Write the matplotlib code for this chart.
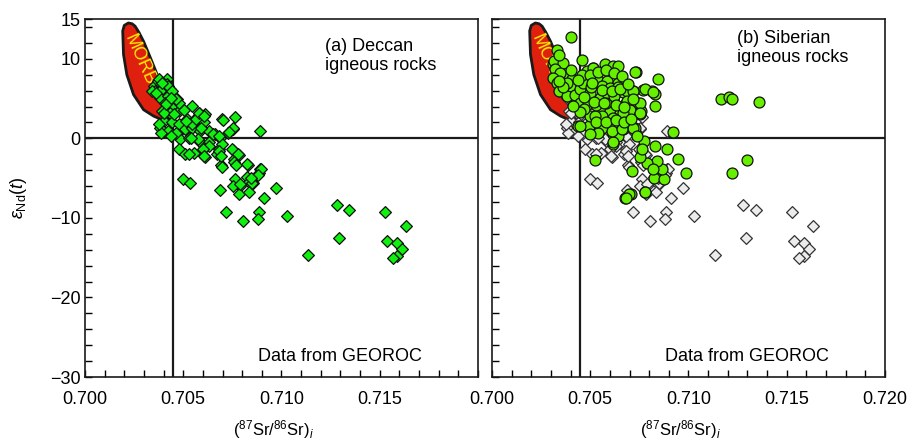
import matplotlib
matplotlib.use("Agg")
import matplotlib.pyplot as plt
from matplotlib.patches import Polygon
from matplotlib.ticker import MultipleLocator

plt.rcParams["font.family"] = ["Liberation Sans", "DejaVu Sans"]
plt.rcParams["mathtext.fontset"] = "custom"
plt.rcParams["mathtext.rm"] = "Liberation Sans"
plt.rcParams["mathtext.it"] = "Liberation Sans:italic"

# Deccan igneous rocks (87Sr/86Sr)i, eNd(t)
deccan_sr = [
    0.70352, 0.70374, 0.70417, 0.70378, 0.70417, 0.70357, 0.70391, 0.70434, 0.70343, 0.70383,
    0.70425, 0.70468, 0.70408, 0.70442, 0.70391, 0.70434, 0.70476, 0.70544, 0.70578, 0.70612,
    0.70519, 0.70561, 0.70604, 0.70400, 0.70442, 0.70476, 0.70383, 0.70425, 0.70468, 0.70510,
    0.70544, 0.70587, 0.70629, 0.70663, 0.70697, 0.70762, 0.70752, 0.70728, 0.70893, 0.70485,
    0.70527, 0.70578, 0.70629, 0.70689, 0.70476, 0.70510, 0.70553, 0.70604, 0.70612, 0.70672,
    0.70680, 0.70697, 0.70752, 0.70694, 0.70757, 0.70786, 0.70830, 0.70893, 0.70884, 0.70765,
    0.70825, 0.70833, 0.70791, 0.70751, 0.70782, 0.70833, 0.70855, 0.70910, 0.70974, 0.70685,
    0.70498, 0.70536, 0.70719, 0.70804, 0.70884, 0.70881, 0.71026, 0.71134, 0.71280, 0.71344,
    0.71293, 0.71528, 0.71536, 0.71590, 0.71611, 0.71590, 0.71565, 0.71633, 0.70403, 0.70454,
    0.70480, 0.70505, 0.70463, 0.70437, 0.70386, 0.70378, 0.70420, 0.70394, 0.70360, 0.70445,
    0.70411, 0.70463, 0.70437, 0.70547, 0.70590, 0.70649, 0.70684, 0.70633, 0.70684, 0.70692,
    0.70573, 0.70539, 0.70531, 0.70599, 0.70607, 0.70748, 0.70777, 0.70757, 0.70825, 0.70896,
    0.70880, 0.70851, 0.70769, 0.70701, 0.70751, 0.70731, 0.70565, 0.70514, 0.70582, 0.70607,
    0.70697, 0.70843, 0.70790,
]
deccan_nd = [
    6.6, 7.2, 7.4, 7.4, 6.8, 5.9, 6.2, 6.2, 6.0, 5.1,
    5.3, 4.9, 4.5, 4.06, 3.4, 3.2, 3.4, 4.06, 3.2, 3.0,
    2.4, 2.4, 2.0, 2.2, 2.0, 1.76, 1.3, 0.9, 0.5, 1.13,
    1.3, 0.9, 0.9, 0.5, 2.4, 2.7, 1.2, 0.7, 0.9, -0.1,
    0.1, -0.3, -0.5, 0.1, -1.4, -2.0, -1.8, -1.2, -2.3, -2.0,
    -1.4, -0.75, -1.5, -3.3, -2.6, -2.1, -3.3, -3.8, -4.4, -5.15,
    -4.8, -5.5, -6.0, -6.0, -7.0, -6.7, -5.65, -7.45, -6.2, -6.5,
    -5.15, -5.6, -9.2, -10.4, -9.3, -10.2, -9.8, -14.7, -8.4, -9.05,
    -12.5, -9.2, -12.9, -13.2, -13.9, -14.8, -15.1, -11.0, 3.2, 3.0,
    4.5, 3.6, 0.7, 0.3, 0.7, 1.76, 6.6, 7.0, 5.7, 5.9,
    4.3, 4.9, 5.1, 1.76, 1.3, 0.5, 0.3, -0.96, -1.6, -2.2,
    -0.1, 0.1, -2.0, -1.4, -2.2, -1.4, -2.0, -3.0, -3.2, -3.8,
    -4.6, -5.6, -3.3, 2.3, 1.26, 0.8, 2.4, 2.2, 3.2, 2.8,
    -3.6, -5.0, -5.8,
]

# Siberian igneous rocks (87Sr/86Sr)i, eNd(t)
siberia_sr = [
    0.70404, 0.70329, 0.70332, 0.70312, 0.70355, 0.70372, 0.70456, 0.70512, 0.70575, 0.70617,
    0.70640, 0.70731, 0.70843, 0.70770, 0.70813, 0.70830, 0.70830, 0.70745, 0.70720, 0.70669,
    0.70680, 0.70669, 0.70756, 0.70728, 0.70617, 0.70617, 0.70524, 0.70711, 0.70677, 0.70706,
    0.70779, 0.70824, 0.70877, 0.70864, 0.70841, 0.70787, 0.70753, 0.70774, 0.70830, 0.70889,
    0.70923, 0.70948, 0.70990, 0.71164, 0.71208, 0.71220, 0.71360, 0.71296, 0.71220, 0.70439,
    0.70495, 0.70316, 0.70363, 0.70321, 0.70346, 0.70312, 0.70329, 0.70406, 0.70397, 0.70343,
    0.70380, 0.70422, 0.70448, 0.70482, 0.70516, 0.70490, 0.70533, 0.70584, 0.70643, 0.70728,
    0.70686, 0.70720, 0.70779, 0.70821, 0.70753, 0.70686, 0.70618, 0.70550, 0.70499, 0.70584,
    0.70448, 0.70490, 0.70550, 0.70601, 0.70651, 0.70702, 0.70753, 0.70618, 0.70558, 0.70499,
    0.70448, 0.70558, 0.70618, 0.70669, 0.70720, 0.70643, 0.70618, 0.70736, 0.70762, 0.70821,
    0.70541, 0.70524, 0.70609, 0.70660, 0.70753, 0.70669, 0.70699, 0.70682, 0.70779, 0.70461,
    0.70505, 0.70560, 0.70600, 0.70640, 0.70470, 0.70530, 0.70580, 0.70620, 0.70500, 0.70380,
    0.70460, 0.70500, 0.70540, 0.70580, 0.70620, 0.70660, 0.70510, 0.70560, 0.70610, 0.70650,
    0.70690, 0.70470, 0.70520, 0.70570, 0.70630, 0.70670, 0.70720, 0.70530, 0.70580, 0.70630,
    0.70670, 0.70710, 0.70450, 0.70410, 0.70360, 0.70340, 0.70340, 0.70400, 0.70440,
]
siberia_nd = [
    12.7, 11.1, 9.8, 9.3, 9.1, 8.25, 9.8, 8.9, 9.4, 9.1,
    9.1, 8.3, 7.4, 6.1, 6.0, 5.6, 4.06, 4.5, 5.9, 5.8,
    4.5, 3.2, 3.4, 1.3, 0.5, -0.75, -2.7, -4.1, -7.45, -7.0,
    -6.8, -5.0, -5.1, -3.9, -2.85, -3.05, -2.3, -0.33, -0.96, -1.3,
    0.8, -2.55, -4.4, 4.9, 5.2, 4.9, 4.6, -2.7, -4.3, 1.55,
    1.55, 9.7, 9.5, 8.7, 8.25, 7.6, 7.0, 7.5, 6.6, 5.9,
    5.3, 5.5, 6.2, 8.5, 8.9, 7.4, 7.6, 7.2, 7.0, 8.4,
    5.9, 5.9, 6.2, 5.8, 4.5, 4.7, 4.9, 5.1, 5.7, 5.7,
    4.5, 4.3, 3.85, 3.4, 3.2, 3.6, 3.0, 2.6, 2.8, 2.8,
    1.55, 1.3, 1.76, 1.13, 1.3, 0.3, -0.5, 0.3, -1.4, -3.9,
    0.7, 2.8, 0.9, 1.13, 3.2, 3.2, -7.0, -7.45, -6.8, 7.0,
    6.4, 6.6, 6.3, 6.5, 3.7, 4.2, 4.4, 5.3, 0.6, 6.9,
    8.0, 7.9, 8.3, 8.6, 8.2, 7.8, 6.9, 6.1, 5.9, 6.2,
    6.8, 5.2, 4.6, 4.5, 4.2, 3.9, 4.9, 2.1, 2.0, 2.3,
    2.1, 2.4, 3.3, 4.1, 6.4, 7.2, 10.5, 8.6, 7.3,
]

# MORB field outline
morb_sr = [0.70221, 0.70240, 0.70255, 0.70275, 0.70298, 0.70320, 0.70340, 0.70374, 0.70405,
           0.70430, 0.70440, 0.70425, 0.70395, 0.70349, 0.70298, 0.70247, 0.70213, 0.70196,
           0.70192, 0.70200]
morb_nd = [14.5, 14.4, 14.1, 13.3, 12.2, 10.9, 9.7, 7.6, 5.8,
           4.3, 3.2, 2.5, 2.3, 2.8, 3.6, 5.5, 8.0, 10.55,
           13.5, 14.2]

bulk_earth_sr = 0.7045
xticks_major = [0.700, 0.705, 0.710, 0.715, 0.720]
yticks_major = [-30, -20, -10, 0, 10, 15]

fig = plt.figure(figsize=(9.07, 4.42), dpi=100)
ax_a = fig.add_axes([0.0937, 0.147, 0.4333, 0.810])
ax_b = fig.add_axes([0.5424, 0.147, 0.4333, 0.810])

for ax in (ax_a, ax_b):
    ax.set_xlim(0.700, 0.720)
    ax.set_ylim(-30, 15)
    ax.add_patch(Polygon(list(zip(morb_sr, morb_nd)), closed=True, facecolor="#e0200e",
                         edgecolor="#1a1a1a", linewidth=2.0, joinstyle="round", zorder=1))
    ax.text(0.70277, 9.9, "MORB", color="#ffee00", fontsize=13, rotation=-66,
            ha="center", va="center", rotation_mode="anchor", zorder=1.5)
    ax.axvline(bulk_earth_sr, color="#1a1a1a", linewidth=1.6, zorder=2)
    ax.axhline(0, color="#1a1a1a", linewidth=1.6, zorder=2)
    ax.xaxis.set_minor_locator(MultipleLocator(0.001))
    ax.yaxis.set_minor_locator(MultipleLocator(2))
    ax.tick_params(which="both", direction="in", length=5, width=1, labelsize=13,
                   top=False, right=False)
    ax.tick_params(axis="x", pad=10)
    ax.tick_params(axis="y", pad=3)
    ax.set_yticks(yticks_major)
    ax.set_yticklabels(["\u221230", "\u221220", "\u221210", "0", "10", "15"])
    for sp in ax.spines.values():
        sp.set_linewidth(1.2)
        sp.set_color("#1a1a1a")
    ax.set_xlabel(r"($^{87}$Sr/$^{86}$Sr)$_i$", fontsize=12)
    ax.xaxis.set_label_coords(0.48, -0.147)
    ax.xaxis.label.set_va("center")
    ax.text(0.44, 0.056, "Data from GEOROC", transform=ax.transAxes, fontsize=13,
            ha="left", va="center")

# (a) Deccan
ax_a.set_xticks(xticks_major[:-1])
ax_a.set_xticklabels(["%.3f" % v for v in xticks_major[:-1]])
ax_a.scatter(deccan_sr, deccan_nd, marker="D", s=36, facecolor="#10f010",
             edgecolor="#111111", linewidth=0.9, zorder=3)
ax_a.text(0.7122, 10.4, "(a) Deccan\nigneous rocks", fontsize=13, ha="left", va="center",
          linespacing=1.15)
ax_a.set_ylabel(r"$\varepsilon_{\mathrm{Nd}}(t)$", fontsize=13)
ax_a.yaxis.set_label_coords(-0.142, 0.5)

# (b) Siberian
ax_b.set_xticks(xticks_major)
ax_b.set_xticklabels(["%.3f" % v for v in xticks_major])
ax_b.tick_params(axis="y", labelleft=False)
ax_b.scatter(deccan_sr, deccan_nd, marker="D", s=36, facecolor="#ececec",
             edgecolor="#333333", linewidth=0.9, zorder=3)
ax_b.scatter(siberia_sr, siberia_nd, marker="o", s=62, facecolor="#66f000",
             edgecolor="#111111", linewidth=0.9, zorder=4)
ax_b.text(0.71245, 11.4, "(b) Siberian\nigneous rocks", fontsize=13, ha="left", va="center",
          linespacing=1.15)

fig.savefig("out.png", dpi=100)
